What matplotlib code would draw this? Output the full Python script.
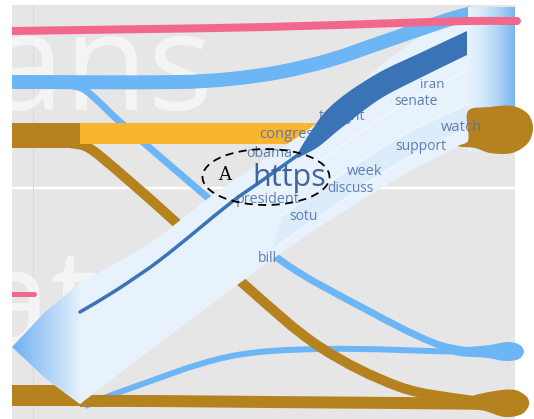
import numpy as np
import matplotlib
matplotlib.use("Agg")
import matplotlib.pyplot as plt
from matplotlib.path import Path
from matplotlib.patches import PathPatch, Polygon, Rectangle, Ellipse
from matplotlib.colors import to_rgba

# ---------------------------------------------------------------
# data (pixel space, y grows downward)
# ---------------------------------------------------------------
pink_knots = [(12, 31), (150, 29), (267, 27), (400, 23), (468, 21), (517, 21)]
pink_stub = [(12, 294), (34, 294)]
blue_top_knots = [(12, 82), (180, 82), (230, 79), (280, 72), (330, 60), (380, 43),
                  (447, 20), (472, 13)]
blue_branch_knots = [(70, 85), (85, 90), (120, 122), (207, 197), (283, 262),
                     (367, 310), (434, 343), (470, 351), (505, 352)]
blue_bottom_knots = [(85, 406), (120, 392), (227, 357), (320, 349), (470, 352), (505, 352)]
brown_diag_knots = [(70, 143), (85, 146), (100, 156), (160, 208), (247, 287),
                    (320, 347), (400, 387), (467, 400), (505, 403)]
brown_bottom_knots = [(80, 401), (150, 401), (267, 402), (400, 403), (505, 404)]
brown_top_node = (12, 123, 80, 148)
brown_bottom_node = (12, 385, 80, 406)
orange_band = (80, 123, 330, 144)

arrow_top = [(468, 12), (423, 35), (380, 66), (343, 100), (313, 126),
             (210, 197), (150, 243), (80, 283)]
arrow_head = [(80, 283), (45, 312), (12, 347), (45, 378), (80, 404)]
arrow_bottom = [(80, 404), (110, 381), (190, 320), (300, 240), (400, 177), (468, 142)]
bar_box = (468, 8, 515, 152)

dark_top = [(467, 31), (420, 53), (380, 72), (347, 93), (325, 112), (308, 136), (296, 156)]
dark_bottom = [(298, 158), (318, 147), (340, 129), (380, 99), (420, 78), (467, 55)]
dark_thin = [(298, 155), (260, 182), (233, 201), (160, 260), (115, 291), (80, 312)]

stripes = [
    [(468, 70), (400, 106), (330, 154), (262, 205)],
    [(468, 104), (400, 137), (330, 182), (282, 216)],
    [(468, 128), (400, 162), (320, 216), (272, 250)],
]

watch_blob = [(468, 111), (490, 107), (513, 106), (528, 114), (533, 128), (528, 143),
              (512, 153), (490, 153), (475, 148), (458, 146), (468, 141)]
brown_end_blob = [(468, 398), (495, 391), (515, 390), (527, 397), (529, 405),
                  (522, 414), (505, 417), (485, 411), (468, 407)]
blue_end_blob = [(455, 349), (490, 345), (508, 342), (520, 345), (524, 352),
                 (519, 359), (505, 361), (488, 358), (455, 355)]

words = ["iran", "senate", "support", "week", "discuss", "congress",
         "obama", "tonight", "president", "sotu", "bill", "watch"]
word_x = [432, 416, 421, 365, 350, 290, 269, 342, 268, 303, 267, 461]
word_y = [84, 101, 146, 171, 188, 134, 153, 116, 199, 216, 258, 127]
word_size = [9.6, 10, 10, 10.6, 9.8, 10.6, 10.2, 10, 10.4, 10, 10, 10.6]
word_layer = [6, 6, 6, 6, 6, 6, 6, 6, 6, 6, 6, 9.3]

# colours
BG = "#e6e6e6"
PINK = "#f2678c"
BLUE = "#6cb6f6"
BROWN = "#b5821f"
ORANGE = "#fbb42f"
PALE = "#e7f2fc"
DARK = "#3a74b6"
WORD = "#5072ab"


def spline_path(pts, closed=False):
    # smooth curve through the knots, tangents scaled by segment length
    P = np.asarray(pts, float)
    n = len(P)
    if closed:
        prev, nxt = np.roll(P, 1, axis=0), np.roll(P, -1, axis=0)
    else:
        prev = np.vstack([P[0], P[:-1]])
        nxt = np.vstack([P[1:], P[-1]])
    dp = np.linalg.norm(P - prev, axis=1)
    dn = np.linalg.norm(nxt - P, axis=1)
    m = (nxt - prev) / np.maximum(dp + dn, 1e-9)[:, None]
    verts = [P[0]]
    codes = [Path.MOVETO]
    for i in range(n if closed else n - 1):
        j = (i + 1) % n
        L = np.linalg.norm(P[j] - P[i])
        verts += [P[i] + m[i] * L / 3, P[j] - m[j] * L / 3, P[j]]
        codes += [Path.CURVE4] * 3
    if closed:
        verts.append(P[0])
        codes.append(Path.CLOSEPOLY)
    return Path(verts, codes)


def spline_pts(pts):
    return spline_path(pts).to_polygons(closed_only=False)[0]


def px(v):
    # pixel width -> points at dpi 100
    return v * 0.72


fig = plt.figure(figsize=(5.34, 4.19), dpi=100)
ax = fig.add_axes([0, 0, 1, 1])
ax.set_xlim(0, 534)
ax.set_ylim(419, 0)
ax.axis("off")

# panel background
panel = Rectangle((12, 5), 503, 414, fc=BG, ec="none", zorder=0)
ax.add_patch(panel)
ax.plot([12, 515], [188, 188], color="white", lw=px(2.5), zorder=0.5)
ax.plot([33, 33], [5, 419], color="#d9d9d9", lw=px(1), zorder=0.5)
panel_clip = Rectangle((12, 0), 522, 419, transform=ax.transData)

# faint big group names (cut by the panel edge as in the picture)
for label, xr, yb in [("Republicans", 213, 110), ("Democrat", 100, 346)]:
    t = ax.text(xr, yb, label, ha="right", va="baseline", fontsize=98,
                family="Open Sans", color="white", alpha=0.6, zorder=1)
    t.set_clip_path(panel)

# streams beneath the arrow
ln, = ax.plot(*zip(*pink_stub), color=PINK, lw=px(5), solid_capstyle="round", zorder=2)
ln.set_clip_path(panel_clip)
for knots, w, c in [(blue_branch_knots, 7, BLUE), (blue_bottom_knots, 6, BLUE),
                    (brown_diag_knots, 10, BROWN), (brown_bottom_knots, 12, BROWN)]:
    ax.add_patch(PathPatch(spline_path(knots), fill=False, ec=c, lw=px(w),
                           capstyle="butt", zorder=3))

x0, y0, x1, y1 = brown_top_node
ax.add_patch(Rectangle((x0, y0), x1 - x0, y1 - y0, fc=BROWN, ec="none", zorder=3.2))
x0, y0, x1, y1 = brown_bottom_node
ax.add_patch(Rectangle((x0, y0), x1 - x0, y1 - y0, fc=BROWN, ec="none", zorder=3.2))
x0, y0, x1, y1 = orange_band
ax.add_patch(Rectangle((x0, y0), x1 - x0, y1 - y0, fc=ORANGE, ec="none", zorder=3.3))

# the big arrow
outline = np.vstack([spline_pts(arrow_top), np.asarray(arrow_head[1:-1], float),
                     spline_pts(arrow_bottom)])
arrow = Polygon(outline, closed=True, fc=PALE, ec="none", zorder=5)
ax.add_patch(arrow)

head = np.zeros((1, 64, 4))
c_tip, c_end = np.array(to_rgba("#6eb0f2")), np.array(to_rgba(PALE))
for i, t in enumerate(np.linspace(0, 1, 64)):
    head[0, i] = c_tip * (1 - t) + c_end * t
im = ax.imshow(head, extent=(12, 82, 419, 250), aspect="auto", zorder=5.1,
               interpolation="bilinear")
im.set_clip_path(arrow)

# slightly deeper sub-flow between the lower stripes
sub = np.vstack([spline_pts(stripes[1]), spline_pts(stripes[2])[::-1]])
ax.add_patch(Polygon(sub, closed=True, fc="#d9eafb", ec="none", alpha=0.7, zorder=5.15))
for s in stripes:
    ax.add_patch(PathPatch(spline_path(s), fill=False, ec="white", lw=px(1.5),
                           alpha=0.45, zorder=5.2))

# upper blue stream runs over the arrow
ax.add_patch(PathPatch(spline_path(blue_top_knots), fill=False, ec=BLUE, lw=px(14),
                       capstyle="butt", zorder=5.4))

# right-hand bar
bx0, by0, bx1, by1 = bar_box
bar = np.zeros((1, 64, 4))
c_l, c_r = np.array(to_rgba("#e6f2fd")), np.array(to_rgba("#79b6ef"))
for i, t in enumerate(np.linspace(0, 1, 64)):
    bar[0, i] = c_l * (1 - t ** 1.5) + c_r * t ** 1.5
ax.imshow(bar, extent=(bx0, bx1, by1, by0), aspect="auto", zorder=5.5,
          interpolation="bilinear")

# words
for wd, x, y, fs, z in zip(words, word_x, word_y, word_size, word_layer):
    ax.text(x, y, wd, ha="center", va="center", fontsize=fs, family="Open Sans",
            color=WORD, alpha=0.9, zorder=z)

# dark highlighted flow
ax.add_patch(Polygon(np.vstack([spline_pts(dark_top), spline_pts(dark_bottom)]),
                     closed=True, fc=DARK, ec="none", zorder=7))
ax.add_patch(PathPatch(spline_path(dark_thin), fill=False, ec=DARK, lw=px(3.5),
                       capstyle="round", zorder=7))

# highlighted word with the annotation ellipse
ax.text(289, 178, "https", ha="center", va="center", fontsize=22, family="Open Sans",
        color="#44639c", zorder=8)
ax.add_patch(Ellipse((266, 177), 127, 56, fill=False, ec="black", lw=1.3,
                     ls=(0, (4.5, 3)), zorder=8))
ax.text(225, 175, "A", ha="center", va="center", fontsize=13, family="DejaVu Serif",
        color="black", zorder=8)

# end blobs
ax.add_patch(PathPatch(spline_path(watch_blob, closed=True), fc=BROWN, ec="none", zorder=9))
ax.add_patch(PathPatch(spline_path(brown_end_blob, closed=True), fc=BROWN, ec="none", zorder=9))
ax.add_patch(PathPatch(spline_path(blue_end_blob, closed=True), fc=BLUE, ec="none", zorder=9))

pk = PathPatch(spline_path(pink_knots), fill=False, ec=PINK, lw=px(8),
               capstyle="round", zorder=9.5)
ax.add_patch(pk)
pk.set_clip_path(panel_clip)

ax.set_xlim(0, 534)
ax.set_ylim(419, 0)
fig.savefig("out.png", dpi=100)
